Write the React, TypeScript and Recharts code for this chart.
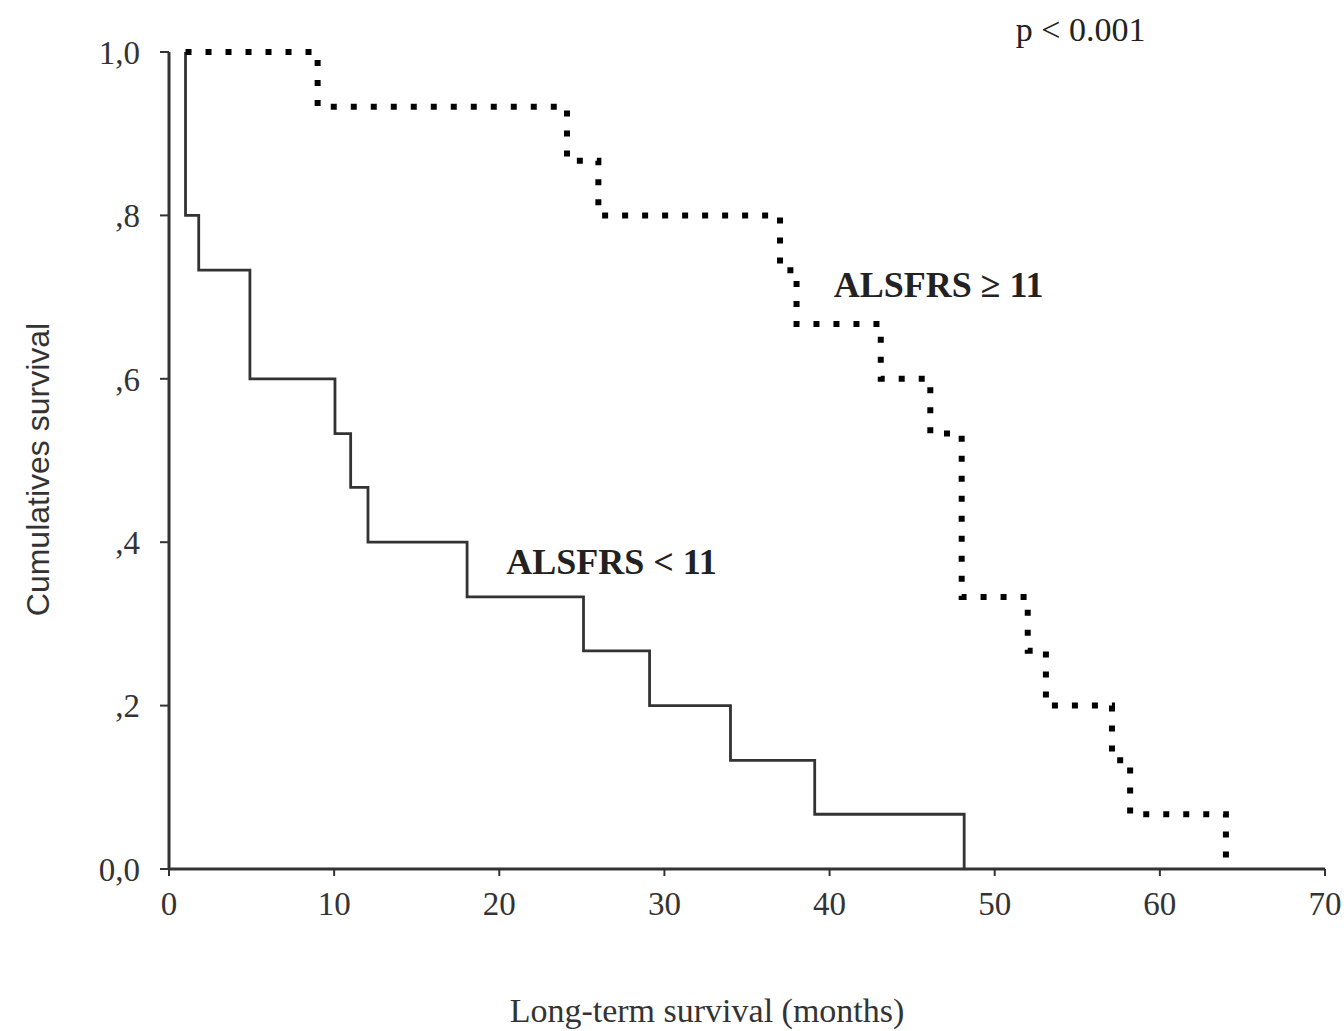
import { LineChart, Line, XAxis, YAxis, ReferenceDot } from 'recharts'

// Kaplan-Meier steps (months, cumulative survival)
const lowTimes = [1, 1, 1.8, 4.9, 10.05, 11, 12.05, 18.05, 25.1, 29.1, 34, 39.1, 48.15]
const lowSurv = [1.0, 0.8, 0.733, 0.6, 0.533, 0.467, 0.4, 0.333, 0.267, 0.2, 0.133, 0.067, 0]

const highTimes = [1, 9, 24.1, 26, 37, 38, 43.1, 46.1, 48, 52, 53.1, 57.1, 58.2, 64]
const highSurv = [1.0, 0.933, 0.867, 0.8, 0.733, 0.667, 0.6, 0.533, 0.333, 0.267, 0.2, 0.133, 0.067, 0]

const xTicks = [0, 10, 20, 30, 40, 50, 60, 70]
const yTicks = [0, 0.2, 0.4, 0.6, 0.8, 1.0]

const notes = [
  { t: 46.6, s: 0.715, text: 'ALSFRS ≥ 11', size: 36, bold: true },
  { t: 26.8, s: 0.376, text: 'ALSFRS < 11', size: 36, bold: true },
  { t: 55.2, s: 1.027, text: 'p < 0.001', size: 34, bold: false },
]

const lowData = lowTimes.map((t, i) => ({ t, s: lowSurv[i] }))
const highData = highTimes.map((t, i) => ({ t, s: highSurv[i] }))

const SERIF = '"Liberation Serif", "Times New Roman", serif'
const SANS = '"Liberation Sans", Arial, sans-serif'
const INK = '#333'

const fmtY = (v: number) => {
  if (v === 0) return '0,0'
  if (v === 1) return '1,0'
  return ',' + Math.round(v * 10)
}

export default function App() {
  return (
    <div style={{ position: 'absolute', left: 0, top: 0, width: 1344, height: 1031, background: '#fff' }}>
      <LineChart width={1344} height={1031} margin={{ top: 52, right: 19, bottom: 102, left: 0 }}>
        <XAxis
          dataKey="t" type="number" domain={[0, 70]} ticks={xTicks} allowDataOverflow
          height={60} tickSize={7} tickMargin={16}
          axisLine={{ stroke: INK, strokeWidth: 3 }} tickLine={{ stroke: INK, strokeWidth: 2 }}
          tick={{ fill: INK, fontSize: 33, fontFamily: SERIF }}
          label={{
            content: (p: any) => (
              <text x={p.viewBox.x + 538} y={p.viewBox.y + 141} textAnchor="middle" dominantBaseline="central"
                fill={INK} fontSize={34} fontFamily={SERIF}>Long-term survival (months)</text>
            ),
          }}
        />
        <YAxis
          type="number" domain={[0, 1]} ticks={yTicks} width={169}
          tickSize={9} tickMargin={20} tickFormatter={fmtY}
          axisLine={{ stroke: INK, strokeWidth: 3 }} tickLine={{ stroke: INK, strokeWidth: 2 }}
          tick={{ fill: INK, fontSize: 33, fontFamily: SERIF }}
          label={{
            content: (p: any) => (
              <text x={38} y={p.viewBox.y + p.viewBox.height / 2 + 9} textAnchor="middle" dominantBaseline="central"
                transform={`rotate(-90, 38, ${p.viewBox.y + p.viewBox.height / 2 + 9})`}
                fill={INK} fontSize={32} fontFamily={SANS}>Cumulatives survival</text>
            ),
          }}
        />
        <Line data={lowData} dataKey="s" type="stepAfter" stroke={INK} strokeWidth={2.8}
          dot={false} activeDot={false} isAnimationActive={false} />
        <Line data={highData} dataKey="s" type="stepAfter" stroke="#000" strokeWidth={6}
          strokeDasharray="6 14" dot={false} activeDot={false} isAnimationActive={false} />
        {notes.map((n) => (
          <ReferenceDot key={n.text} x={n.t} y={n.s} ifOverflow="visible"
            shape={(p: any) => (
              <text x={p.cx} y={p.cy} textAnchor="middle" dominantBaseline="central"
                fill="#222" fontSize={n.size} fontWeight={n.bold ? 'bold' : 'normal'} fontFamily={SERIF}>{n.text}</text>
            )}
          />
        ))}
      </LineChart>
    </div>
  )
}
